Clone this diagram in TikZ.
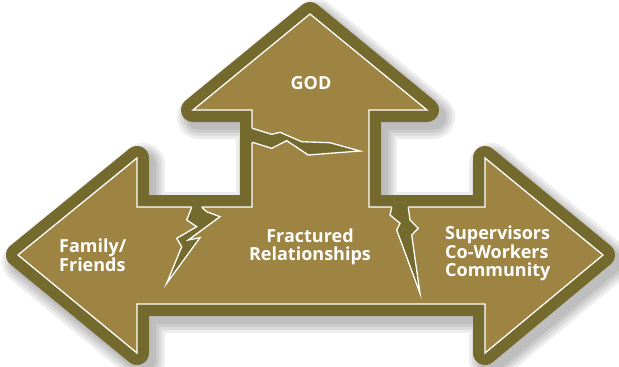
\documentclass[tikz,border=0pt]{standalone}
\usepackage{fontspec}
\newfontfamily\labelfont{Open Sans}
\definecolor{olivefill}{RGB}{157,132,66}
\definecolor{oliveedge}{RGB}{117,106,45}
\tikzset{
    lbl/.style={text=white, inner sep=0pt, font=\labelfont\bfseries\fontsize{18}{18.5}\selectfont},
    crackline/.style={white, line width=1.3pt, line join=miter},
}
\def\arrowpath{(310,14) -- (427,110) -- (369,110) -- (369,207) -- (485,207) -- (485,158) -- (603,255) -- (485,353) -- (485,304) -- (137,304) -- (137,353) -- (18,255) -- (137,158) -- (137,207) -- (252,207) -- (252,110) -- (193,110) -- cycle}

\begin{document}
\begin{tikzpicture}[x=1pt, y=-1pt]
    \useasboundingbox (0,0) rectangle (619,367);
    % shadow
    \begin{scope}[shift={(6,7)}]
        \foreach \w in {44,38,32,26}
            \draw[black, opacity=0.07, line width=\w pt, line join=round] \arrowpath;
    \end{scope}
    \draw[oliveedge, line width=24pt, line join=round] \arrowpath;
    \fill[olivefill] \arrowpath;
    \draw[white, line width=1.3pt] \arrowpath;

    % cracks
    \fill[oliveedge] (240,128.3) -- (252.3,128.3) -- (271.7,134.3) -- (280,132.3) -- (301.7,141.7) -- (330,142.7) -- (360,151) -- (330,153.3) -- (308.3,155) -- (286.7,140.7) -- (271.7,148.3) -- (252.3,142.3) -- (240,142.3) -- cycle;
    \draw[crackline] (252.3,128.3) -- (271.7,134.3) -- (280,132.3) -- (301.7,141.7) -- (330,142.7) -- (360,151) -- (330,153.3) -- (308.3,155) -- (286.7,140.7) -- (271.7,148.3) -- (252.3,142.3);

    \fill[oliveedge] (191.7,198) -- (191.7,207.3) -- (186.7,220) -- (196.7,226.7) -- (176.7,238.3) -- (181.7,246.7) -- (166.7,283.3) -- (200,237.7) -- (188.3,240) -- (220,216.7) -- (206.7,211.7) -- (201.7,207.3) -- (201.7,198) -- cycle;
    \draw[crackline] (191.7,207.3) -- (186.7,220) -- (196.7,226.7) -- (176.7,238.3) -- (181.7,246.7) -- (166.7,283.3) -- (200,237.7) -- (188.3,240) -- (220,216.7) -- (206.7,211.7) -- (201.7,207.3);

    \fill[oliveedge] (391.7,198) -- (391.7,207.3) -- (390,215) -- (400,223.3) -- (396.7,230) -- (420,293.3) -- (411.7,235) -- (418.3,228.3) -- (410,220) -- (408.3,207.3) -- (408.3,198) -- cycle;
    \draw[crackline] (391.7,207.3) -- (390,215) -- (400,223.3) -- (396.7,230) -- (420,293.3) -- (411.7,235) -- (418.3,228.3) -- (410,220) -- (408.3,207.3);

    \node[lbl] (god) at (311,83) {GOD};
    \node[lbl, align=center] (fractured) at (310,247) {Fractured\\Relationships};
    \node[lbl, anchor=west, align=left] (family) at (59,255) {Family/\\Friends};
    \node[lbl, anchor=west, align=left] (others) at (445,253.5) {Supervisors\\Co-Workers\\Community};
\end{tikzpicture}
\end{document}
